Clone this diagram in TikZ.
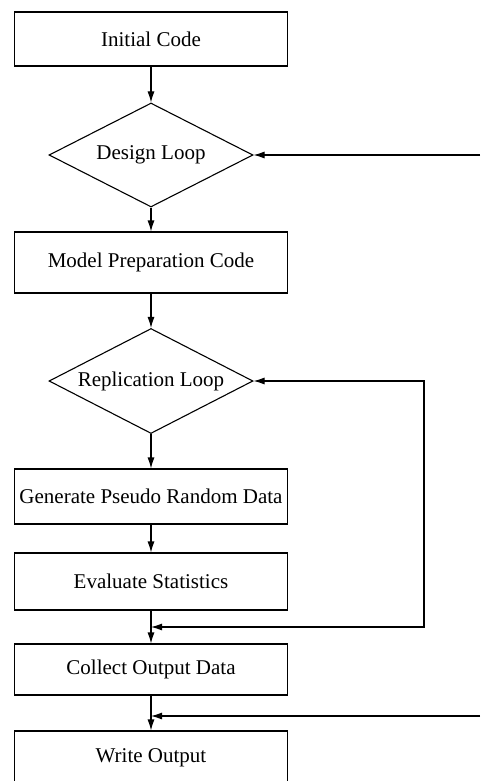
\documentclass[tikz,border=0pt]{standalone}
\usepackage{fontspec}
\setmainfont{Liberation Serif}
\usetikzlibrary{arrows.meta,shapes.geometric}

\tikzset{
  flowbox/.style={draw,rectangle,line width=1.1pt,minimum width=273pt,
    inner sep=0pt,font=\fontsize{21}{25}\selectfont},
  loopdiamond/.style={draw,diamond,aspect=2,line width=1.1pt,minimum width=204pt,
    minimum height=104pt,inner sep=0pt,font=\fontsize{21}{25}\selectfont},
  flowline/.style={line width=1.1pt,-{Latex[length=11pt,width=7pt]}},
}

\begin{document}
\begin{tikzpicture}[x=1pt,y=-1pt]
\useasboundingbox (0,0) rectangle (480,781);

% Boxes and loops, top to bottom.
\node[flowbox,minimum height=54pt] (init) at (151,39) {Initial Code};
\node[loopdiamond] (design) at (151,155) {Design Loop};
\node[flowbox,minimum height=61pt] (model) at (151,262.5) {Model Preparation Code};
\node[loopdiamond,minimum height=105pt] (rep) at (151,381) {Replication Loop};
\node[flowbox,minimum height=55pt] (gen) at (151,496.5) {Generate Pseudo Random Data};
\node[flowbox,minimum height=57pt] (eval) at (151,581.5) {Evaluate Statistics};
\node[flowbox,minimum height=51pt] (collect) at (151,669.5) {Collect Output Data};
\node[flowbox,minimum height=53pt] (write) at (151,757.5) {Write Output};

% Free ends and joins of the loop lines.
\coordinate (designin) at (480,155);
\coordinate (repturn) at (424,627);
\coordinate (repjoin) at (151,627);
\coordinate (writein) at (480,716);
\coordinate (writejoin) at (151,716);

% Main flow.
\draw[flowline] (init) -- (design);
\draw[flowline] (design) -- (model);
\draw[flowline] (model) -- (rep);
\draw[flowline] (rep) -- (gen);
\draw[flowline] (gen) -- (eval);
\draw[flowline] (eval) -- (collect);
\draw[flowline] (collect) -- (write);

% Feedback lines.
\draw[flowline] (designin) -- (design.east);
\draw[flowline,{Latex[length=11pt,width=7pt]}-{Latex[length=11pt,width=7pt]}]
  (rep.east) -| (repturn) -- (repjoin);
\draw[flowline] (writein) -- (writejoin);

\end{tikzpicture}
\end{document}
